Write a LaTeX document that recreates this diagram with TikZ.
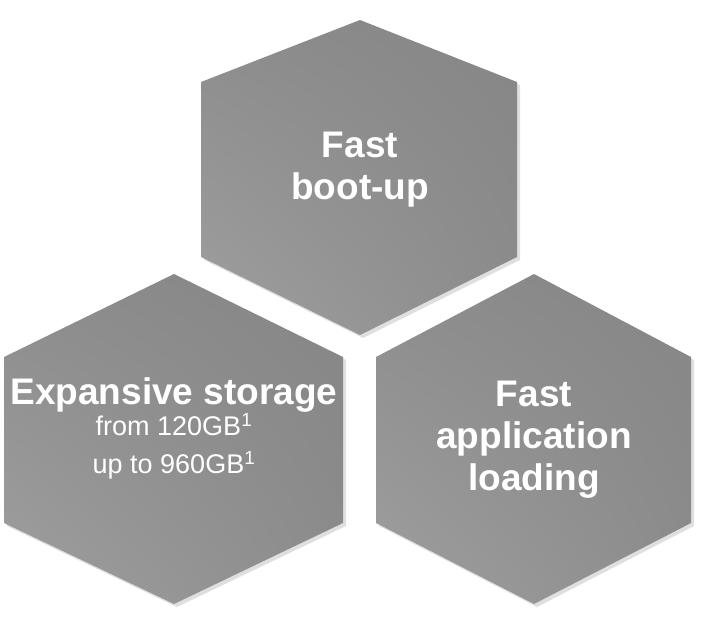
\documentclass[tikz,border=0pt]{standalone}
\usepackage{fontspec}
\setmainfont{Liberation Sans}
\usetikzlibrary{shadows,shadings,positioning}

\begin{document}
\begin{tikzpicture}[x=1pt, y=-1pt]

                \tikzset{hex/.style={lower left=gray!75, upper right=gray!105!black, upper left=gray!90, lower right=gray!90,
                    drop shadow={opacity=0.25, shadow xshift=3pt, shadow yshift=-3pt}},
                    title/.style={text=white, align=center, font=\fontsize{37}{42}\selectfont\bfseries},
                    small/.style={text=white, align=center, font=\fontsize{27}{38}\selectfont}}

                \useasboundingbox (0,0) rectangle (704,616);

                \shade[hex] (360,20) -- (517,82) -- (517,257) -- (360,335) -- (201,257) -- (201,82) -- cycle;
                \shade[hex] (174,274) -- (343,357) -- (343,523) -- (174,604) -- (4,523) -- (4,357) -- cycle;
                \shade[hex] (534,274) -- (691,357) -- (691,523) -- (534,604) -- (376,523) -- (376,357) -- cycle;

                \node[title] (boot) at (360,170) {Fast\\boot-up};
                \node[title] (store) at (174,395) {Expansive storage};
                \node[small, below=-6pt of store] (range) {from 120GB\textsuperscript{1}\\up to 960GB\textsuperscript{1}};
                \node[title] (app) at (534,440) {Fast\\application\\loading};

\end{tikzpicture}
\end{document}
